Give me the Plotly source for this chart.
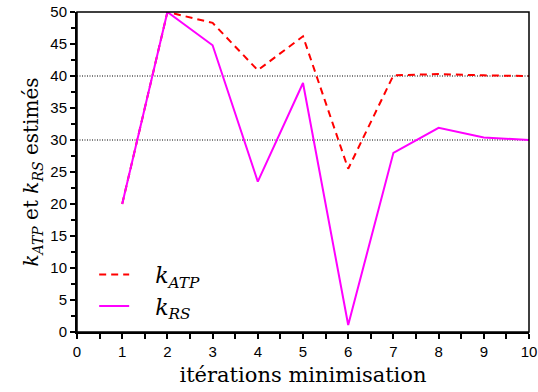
import plotly.graph_objects as go

iterations = [1, 2, 3, 4, 5, 6, 7, 8, 9, 10]
k_atp = [20, 50, 48.3, 40.9, 46.2, 25.5, 40.1, 40.3, 40.1, 40.0]
k_rs = [20, 50, 44.8, 23.5, 38.9, 1.1, 28.0, 31.9, 30.4, 30.0]
ref_levels = [40, 30]
x_ticks = list(range(0, 11))
y_ticks = list(range(0, 51, 5))

serif = "DejaVu Serif"
sans = "Liberation Sans"

fig = go.Figure()
fig.add_trace(go.Scatter(
    x=iterations, y=k_atp, mode="lines",
    name="&nbsp;&nbsp;&nbsp;<i>k</i><sub><i>ATP</i></sub>",
    line=dict(color="#ff0000", width=2, dash="7px,5px"),
))
fig.add_trace(go.Scatter(
    x=iterations, y=k_rs, mode="lines",
    name="&nbsp;&nbsp;&nbsp;<i>k</i><sub><i>RS</i></sub>",
    line=dict(color="#ff00ff", width=2),
))
for lvl in ref_levels:
    fig.add_hline(y=lvl, line=dict(color="black", width=1, dash="1px,1.5px"), layer="below")

fig.update_layout(
    width=538, height=392,
    margin=dict(l=77, r=9, t=12, b=60),
    plot_bgcolor="white", paper_bgcolor="white",
    font=dict(family=serif),
    showlegend=True,
    legend=dict(
        x=0.038, y=0.245, xanchor="left", yanchor="top",
        bgcolor="rgba(0,0,0,0)",
        font=dict(family=serif, size=22, color="black"),
        tracegroupgap=0, itemwidth=30,
    ),
    xaxis=dict(
        range=[0, 10], tickvals=x_ticks, ticktext=[str(v) for v in x_ticks],
        showline=True, linecolor="black", linewidth=2, mirror=False,
        ticks="outside", ticklen=5, tickwidth=1.5, tickcolor="black",
        minor=dict(dtick=0.5, ticks="outside", ticklen=5, tickwidth=1.5, tickcolor="black"),
        showgrid=False, zeroline=False, automargin=False,
        tickfont=dict(family=sans, size=15, color="black"),
        title=dict(text="itérations minimisation", font=dict(family=serif, size=21, color="black"), standoff=8),
    ),
    yaxis=dict(
        range=[0, 50], tickvals=y_ticks, ticktext=[str(v) for v in y_ticks],
        showline=True, linecolor="black", linewidth=2, mirror=False,
        ticks="outside", ticklen=5, tickwidth=1.5, tickcolor="black",
        minor=dict(dtick=2.5, ticks="outside", ticklen=4, tickwidth=1.5, tickcolor="black"),
        showgrid=False, zeroline=False, automargin=False,
        tickfont=dict(family=sans, size=15, color="black"),
        title=dict(text="<i>k</i><sub><i>ATP</i></sub> et <i>k</i><sub><i>RS</i></sub> estimés",
                   font=dict(family=serif, size=20, color="black"), standoff=6),
    ),
)
fig.add_shape(type="rect", xref="paper", yref="paper", x0=0, y0=0, x1=1, y1=1,
              line=dict(color="black", width=1.5), layer="above")

fig.write_html("out.html", config={"displayModeBar": False},
               post_script="document.body.style.margin='0';")
